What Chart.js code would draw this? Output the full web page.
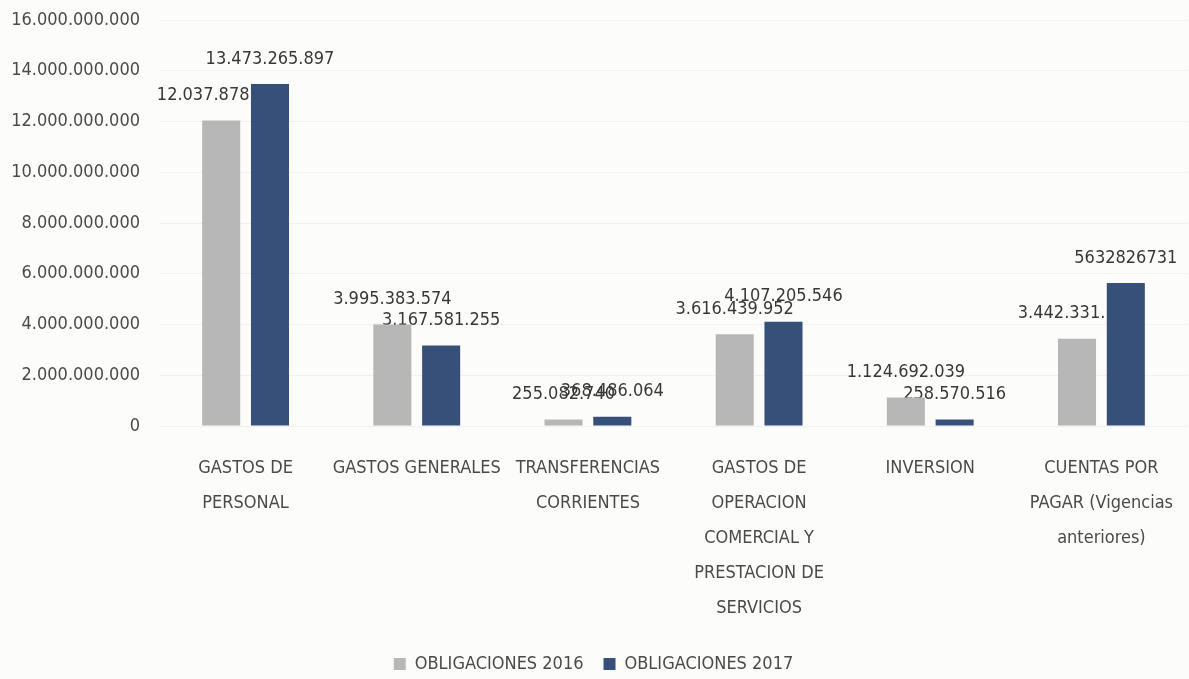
<!DOCTYPE html>
<html>
<head>
<meta charset="utf-8">
<script src="https://cdn.jsdelivr.net/npm/chart.js@4/dist/chart.umd.min.js"></script>
<style>
  html, body { margin: 0; padding: 0; background: #fcfcfb; }
  #wrap { width: 1189px; height: 679px; }
</style>
</head>
<body>
<div id="wrap"><canvas id="obligacionesChart" width="1189" height="679"></canvas></div>
<script>
const categories = [
  ['GASTOS DE', 'PERSONAL'],
  ['GASTOS GENERALES'],
  ['TRANSFERENCIAS', 'CORRIENTES'],
  ['GASTOS DE', 'OPERACION', 'COMERCIAL Y', 'PRESTACION DE', 'SERVICIOS'],
  ['INVERSION'],
  ['CUENTAS POR', 'PAGAR (Vigencias', 'anteriores)'],
];
const obligaciones2016 = [12037878016, 3995383574, 255082740, 3616439952, 1124692039, 3442331118];
const obligaciones2017 = [13473265897, 3167581255, 368486064, 4107205546, 258570516, 5632826731];
// the last 2017 label is printed without separators in the original
const plainLabel2017 = [false, false, false, false, false, true];
const yTicks = [0, 2000000000, 4000000000, 6000000000, 8000000000, 10000000000, 12000000000, 14000000000, 16000000000];

const FONT = "'DejaVu Sans Condensed', 'Liberation Sans Narrow', 'DejaVu Sans', sans-serif";
const TEXT = '#4a4a4a';

const withDots = (v) => String(v).replace(/\B(?=(\d{3})+(?!\d))/g, '.');

// value labels go under the bars, so a bar hides the part of its neighbour's label
const valueLabels = {
  id: 'valueLabels',
  beforeDatasetsDraw(chart) {
    const ctx = chart.ctx;
    ctx.save();
    ctx.font = '18px ' + FONT;
    ctx.fillStyle = '#383838';
    ctx.textAlign = 'center';
    ctx.textBaseline = 'middle';
    chart.data.datasets.forEach((ds, di) => {
      chart.getDatasetMeta(di).data.forEach((bar, i) => {
        const v = ds.data[i];
        const txt = (di === 1 && plainLabel2017[i]) ? String(v) : withDots(v);
        ctx.fillText(txt, bar.x, bar.y - 25);
      });
    });
    ctx.restore();
  },
};

const background = {
  id: 'background',
  beforeDraw(chart) {
    const ctx = chart.ctx;
    ctx.save();
    ctx.fillStyle = '#fcfcfb';
    ctx.fillRect(0, 0, chart.width, chart.height);
    ctx.restore();
  },
};

new Chart(document.getElementById('obligacionesChart'), {
  type: 'bar',
  data: {
    labels: categories,
    datasets: [
      {
        label: 'OBLIGACIONES 2016',
        data: obligaciones2016,
        backgroundColor: '#b7b7b7',
        categoryPercentage: 0.57,
        barPercentage: 0.78,
      },
      {
        label: 'OBLIGACIONES 2017',
        data: obligaciones2017,
        backgroundColor: '#375079',
        categoryPercentage: 0.57,
        barPercentage: 0.78,
      },
    ],
  },
  options: {
    responsive: false,
    animation: false,
    devicePixelRatio: 1,
    layout: { padding: { top: 20, right: 2, left: 0, bottom: -4 } },
    plugins: {
      legend: {
        position: 'bottom',
        labels: {
          color: TEXT,
          font: { family: FONT, size: 18 },
          boxWidth: 12,
          boxHeight: 12,
          padding: 20,
        },
      },
      tooltip: { enabled: false },
    },
    scales: {
      x: {
        afterFit(scale) {
          scale.paddingLeft = 0;
          scale.paddingRight = 0;
          scale.height = 209;
        },
        grid: { display: false },
        border: { display: false },
        ticks: {
          color: TEXT,
          font: { family: FONT, size: 18, lineHeight: 1.94 },
          maxRotation: 0,
          autoSkip: false,
          padding: 17,
        },
      },
      y: {
        min: 0,
        max: 16000000000,
        afterBuildTicks(scale) {
          scale.ticks = yTicks.map((value) => ({ value }));
        },
        afterFit(scale) {
          scale.width = 160;
          scale.paddingTop = 0;
          scale.paddingBottom = 0;
        },
        grid: { color: '#f0f0f0', drawTicks: false },
        border: { display: false },
        ticks: {
          color: TEXT,
          font: { family: FONT, size: 18 },
          padding: 20,
          callback: (v) => withDots(v),
        },
      },
    },
  },
  plugins: [background, valueLabels],
});
</script>
</body>
</html>
